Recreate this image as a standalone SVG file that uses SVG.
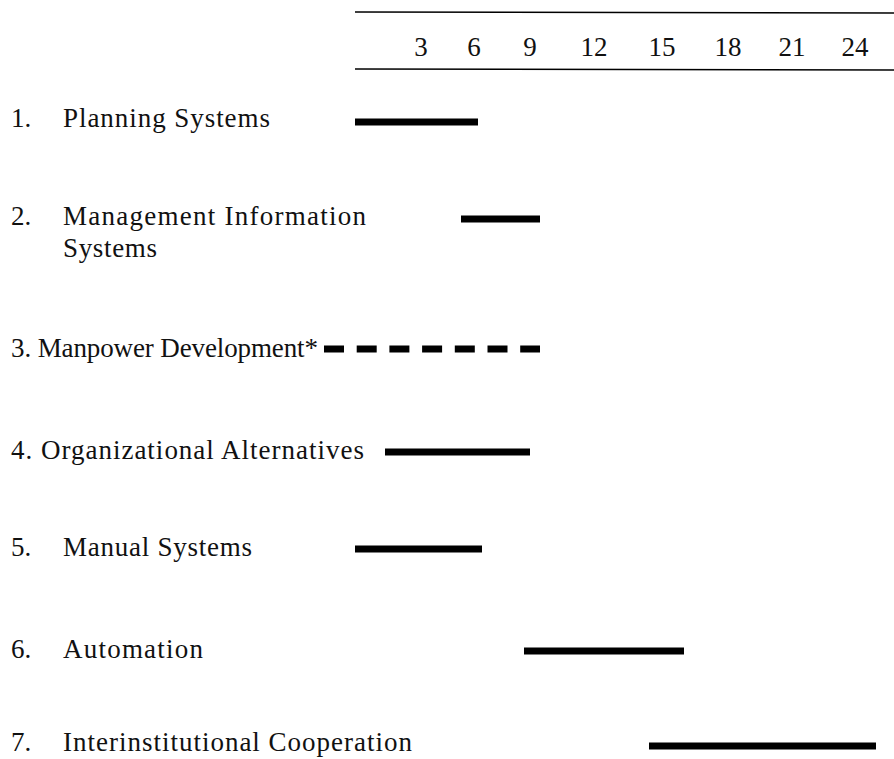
<svg xmlns="http://www.w3.org/2000/svg" width="894" height="759" viewBox="0 0 894 759">
<style>
text{font-family:"Liberation Serif","Times New Roman",serif;font-size:27px;fill:#111}
.num{text-anchor:middle}
.bar{stroke:#000;stroke-width:7;fill:none}
.rule{stroke:#000;stroke-width:1.5}
</style>
<rect width="894" height="759" fill="#fff"/>
<g id="axis">
<line class="rule" x1="355" y1="12" x2="894" y2="13"/>
<line class="rule" x1="355" y1="69" x2="894" y2="70"/>
<text class="num" x="421" y="56">3</text>
<text class="num" x="474" y="56">6</text>
<text class="num" x="530" y="56">9</text>
<text class="num" x="594" y="56">12</text>
<text class="num" x="662" y="56">15</text>
<text class="num" x="728" y="56">18</text>
<text class="num" x="792" y="56">21</text>
<text class="num" x="855" y="56">24</text>
</g>
<g id="labels">
<text x="11" y="127">1.</text>
<text x="63" y="127" textLength="207" lengthAdjust="spacing">Planning Systems</text>
<text x="11" y="225">2.</text>
<text x="63" y="225" textLength="303" lengthAdjust="spacing">Management Information</text>
<text x="63" y="257" textLength="94" lengthAdjust="spacing">Systems</text>
<text x="11" y="357" textLength="307" lengthAdjust="spacing">3. Manpower Development*</text>
<text x="11" y="459" textLength="353" lengthAdjust="spacing">4. Organizational Alternatives</text>
<text x="11" y="556">5.</text>
<text x="63" y="556" textLength="189" lengthAdjust="spacing">Manual Systems</text>
<text x="11" y="658">6.</text>
<text x="63" y="658" textLength="140" lengthAdjust="spacing">Automation</text>
<text x="11" y="751">7.</text>
<text x="63" y="751" textLength="349" lengthAdjust="spacing">Interinstitutional Cooperation</text>
</g>
<g id="bars">
<line class="bar" x1="355" y1="122" x2="478" y2="122"/>
<line class="bar" x1="461" y1="219" x2="540" y2="219"/>
<line class="bar" x1="324" y1="349" x2="540" y2="349" stroke-dasharray="20 12.7"/>
<line class="bar" x1="385" y1="452" x2="530" y2="452"/>
<line class="bar" x1="355" y1="549" x2="482" y2="549"/>
<line class="bar" x1="524" y1="651" x2="684" y2="651"/>
<line class="bar" x1="649" y1="746" x2="876" y2="746"/>
</g>
</svg>
